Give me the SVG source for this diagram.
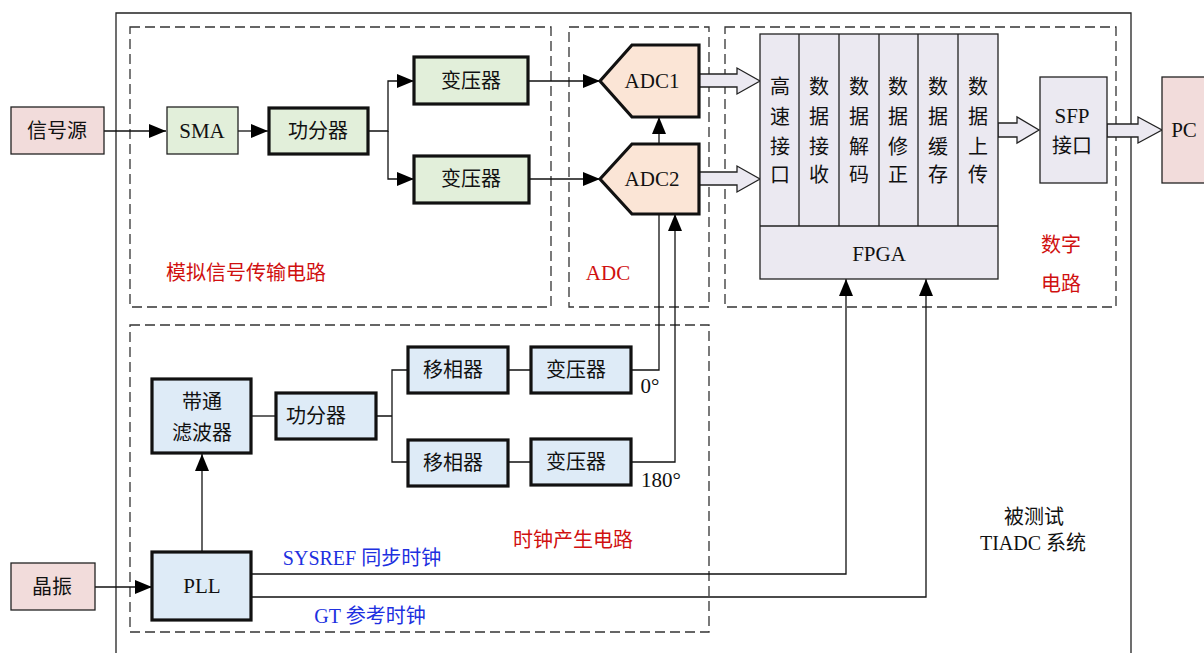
<svg xmlns="http://www.w3.org/2000/svg" width="1204" height="653" viewBox="0 0 1204 653">
<defs>
<marker id="ah" markerUnits="userSpaceOnUse" markerWidth="17" markerHeight="14" refX="17" refY="7" orient="auto">
<path d="M0,0 L17,7 L0,14 z" fill="#000"/>
</marker>
<style>
text{font-family:"Liberation Serif","Noto Sans CJK SC",serif;font-size:20px;fill:#111;text-anchor:middle;dominant-baseline:central}
.lat{font-size:21px}
.thin{stroke:#222;stroke-width:1.3}
.thick{stroke:#111;stroke-width:3.2}
.g{fill:#e2efda}.p{fill:#fbe5d6}.b{fill:#deebf7}.k{fill:#f2dcdb}.l{fill:#ebe9f1}
.dash{fill:none;stroke:#333;stroke-width:1.3;stroke-dasharray:10,5}
.c{fill:none;stroke:#111;stroke-width:1.3}
.red{fill:#d01010}.blue{fill:#2030e0}
.ha{fill:#ebe9f1;stroke:#222;stroke-width:1.3}
</style>
</defs>
<rect width="1204" height="653" fill="#fff"/>
<g id="frames">
<path d="M116,653 V13 H1131 V653" fill="none" stroke="#222" stroke-width="1.3"/>
<rect class="dash" x="130" y="27" width="421" height="280"/>
<rect class="dash" x="569" y="27" width="140" height="280"/>
<rect class="dash" x="725" y="27" width="391" height="280"/>
<rect class="dash" x="130" y="325" width="579" height="307"/>
</g>
<g id="connectors">
<path class="c" d="M104,131 H166" marker-end="url(#ah)"/>
<path class="c" d="M238,131 H268" marker-end="url(#ah)"/>
<path class="c" d="M369,131 H388 V81 H414" marker-end="url(#ah)"/>
<path class="c" d="M388,131 V179 H414" marker-end="url(#ah)"/>
<path class="c" d="M528,81 H600" marker-end="url(#ah)"/>
<path class="c" d="M529,179 H600" marker-end="url(#ah)"/>
<path class="c" d="M659,144 V117" marker-end="url(#ah)"/>
<path class="c" d="M95,587 H152" marker-end="url(#ah)"/>
<path class="c" d="M202,552 V454" marker-end="url(#ah)"/>
<path class="c" d="M252,416 H276"/>
<path class="c" d="M377,416 H392 V370 H407 M392,416 V462 H407"/>
<path class="c" d="M508,370 H531 M508,462 H531"/>
<path class="c" d="M631,370 H659 V214"/>
<path class="c" d="M631,462 H675 V214" marker-end="url(#ah)"/>
<path class="c" d="M252,574 H846 V279" marker-end="url(#ah)"/>
<path class="c" d="M252,597 H926 V279" marker-end="url(#ah)"/>
<polygon class="ha" points="699,74 737,74 737,68 760,81 737,94 737,87 699,87"/>
<polygon class="ha" points="699,172 737,172 737,166 760,179 737,192 737,185 699,185"/>
<polygon class="ha" points="998,123 1017,123 1017,117 1039,130 1017,143 1017,137 998,137"/>
<polygon class="ha" points="1107,124 1138,124 1138,117 1162,130 1138,143 1138,137 1107,137"/>
</g>
<g id="src">
<rect class="k thin" x="11" y="107" width="93" height="47"/>
<text x="57" y="131">信号源</text>
</g>
<g id="sma">
<rect class="g thin" x="167" y="107" width="71" height="47"/>
<text class="lat" x="202" y="131">SMA</text>
</g>
<g id="splitter1">
<rect class="g thick" x="269" y="108" width="99" height="46"/>
<text x="318" y="131">功分器</text>
</g>
<g id="tf1">
<rect class="g thick" x="414" y="57" width="114" height="47"/>
<text x="471" y="81">变压器</text>
</g>
<g id="tf2">
<rect class="g thick" x="414" y="156" width="115" height="47"/>
<text x="471" y="179">变压器</text>
</g>
<g id="adc1">
<polygon class="p thick" points="600,81 632,45 699,45 699,117 632,117"/>
<text class="lat" x="652" y="81">ADC1</text>
</g>
<g id="adc2">
<polygon class="p thick" points="600,179 632,144 699,144 699,214 632,214"/>
<text class="lat" x="652" y="179">ADC2</text>
</g>
<g id="fpga">
<rect class="l thin" x="760" y="34" width="238" height="245"/>
<path class="thin" d="M760,226 H998 M799,34 V226 M839,34 V226 M879,34 V226 M918,34 V226 M958,34 V226" fill="none"/>
<text x="780" y="87">高</text><text x="780" y="117">速</text><text x="780" y="147">接</text><text x="780" y="175">口</text>
<text x="819" y="87">数</text><text x="819" y="117">据</text><text x="819" y="147">接</text><text x="819" y="175">收</text>
<text x="859" y="87">数</text><text x="859" y="117">据</text><text x="859" y="147">解</text><text x="859" y="175">码</text>
<text x="898" y="87">数</text><text x="898" y="117">据</text><text x="898" y="147">修</text><text x="898" y="175">正</text>
<text x="938" y="87">数</text><text x="938" y="117">据</text><text x="938" y="147">缓</text><text x="938" y="175">存</text>
<text x="978" y="87">数</text><text x="978" y="117">据</text><text x="978" y="147">上</text><text x="978" y="175">传</text>
<text class="lat" x="879" y="254">FPGA</text>
</g>
<g id="sfp">
<rect class="l thin" x="1040" y="77" width="67" height="106"/>
<text class="lat" x="1072" y="116">SFP</text>
<text x="1072" y="146">接口</text>
</g>
<g id="pc">
<rect class="k thin" x="1162" y="77" width="50" height="106"/>
<text class="lat" x="1184" y="130">PC</text>
</g>
<g id="bpf">
<rect class="b thick" x="152" y="379" width="99" height="74"/>
<text x="202" y="402">带通</text>
<text x="202" y="433">滤波器</text>
</g>
<g id="splitter2">
<rect class="b thick" x="276" y="393" width="100" height="46"/>
<text x="316" y="416">功分器</text>
</g>
<g id="ps1">
<rect class="b thick" x="408" y="347" width="100" height="46"/>
<text x="453" y="370">移相器</text>
</g>
<g id="tf3">
<rect class="b thick" x="531" y="347" width="100" height="46"/>
<text x="576" y="370">变压器</text>
</g>
<g id="ps2">
<rect class="b thick" x="408" y="440" width="100" height="46"/>
<text x="453" y="463">移相器</text>
</g>
<g id="tf4">
<rect class="b thick" x="531" y="439" width="100" height="46"/>
<text x="576" y="462">变压器</text>
</g>
<g id="pll">
<rect class="b thick" x="152" y="552" width="99" height="68"/>
<text class="lat" x="202" y="586">PLL</text>
</g>
<g id="osc">
<rect class="k thin" x="11" y="563" width="84" height="47"/>
<text x="52" y="587">晶振</text>
</g>
<g id="labels">
<text class="lat" x="650" y="386">0°</text>
<text class="lat" x="661" y="480">180°</text>
<text class="red" x="246" y="273">模拟信号传输电路</text>
<text class="red lat" x="608" y="273">ADC</text>
<text class="red" x="1061" y="245">数字</text>
<text class="red" x="1061" y="284">电路</text>
<text class="red" x="573" y="540">时钟产生电路</text>
<text class="blue" x="362" y="558">SYSREF 同步时钟</text>
<text class="blue" x="370" y="616">GT 参考时钟</text>
<text x="1034" y="517">被测试</text>
<text x="1033" y="543">TIADC 系统</text>
</g>
</svg>
